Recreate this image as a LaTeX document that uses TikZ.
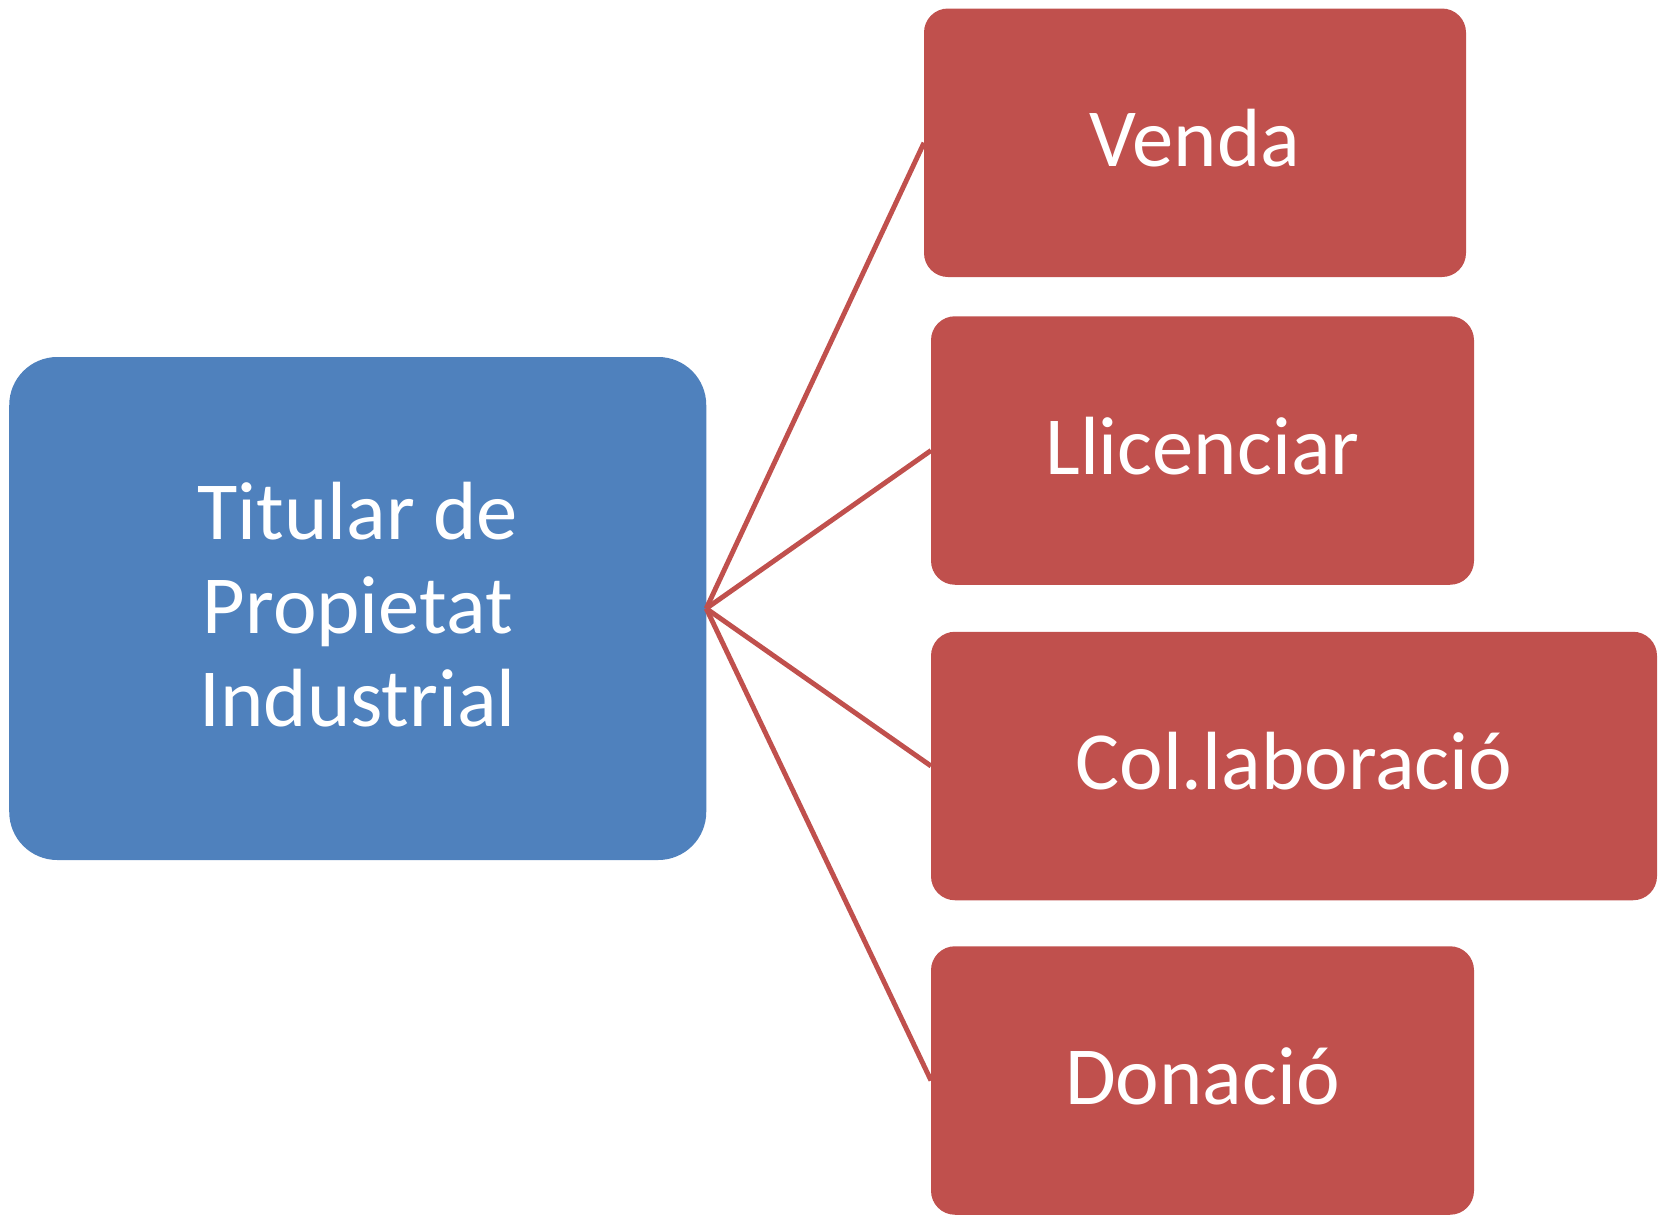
\documentclass[tikz,border=0pt]{standalone}
\usepackage{fontspec}
\setmainfont{Carlito}
\usepackage{tikz}

\definecolor{blau}{HTML}{4F81BD}
\definecolor{vermell}{HTML}{C0504D}

\begin{document}
\begin{tikzpicture}[
    every node/.style={text=white, font=\fontsize{47}{53.3}\selectfont, inner sep=0pt, outer sep=0pt},
    titular/.style={fill=blau, rounded corners=0.96cm, minimum width=13.94cm, minimum height=10.06cm},
    opcio/.style={fill=vermell, rounded corners=0.48cm, minimum height=5.37cm, text height=31pt, text depth=3.8pt},
    branca/.style={draw=vermell, line width=2.8pt}
]
    \useasboundingbox (0,0) rectangle (33.3,-24.3);
    \node[titular] (Tit) at (7.155,-12.17) {\begin{tabular}{@{}c@{}}\rule{0pt}{44pt}Titular de\\Propietat\\Industrial\end{tabular}};
    \node[opcio, minimum width=10.84cm] (Venda) at (23.90,-2.855) {Venda};
    \node[opcio, minimum width=10.86cm] (Llic) at (24.05,-9.01) {Llicenciar};
    \node[opcio, minimum width=14.52cm] (Colab) at (25.88,-15.32) {Col.laboració};
    \node[opcio, minimum width=10.86cm] (Donacio) at (24.05,-21.61) {Donació};
    \draw[branca] (Tit.east) -- (Venda.west);
    \draw[branca] (Tit.east) -- (Llic.west);
    \draw[branca] (Tit.east) -- (Colab.west);
    \draw[branca] (Tit.east) -- (Donacio.west);
\end{tikzpicture}
\end{document}
